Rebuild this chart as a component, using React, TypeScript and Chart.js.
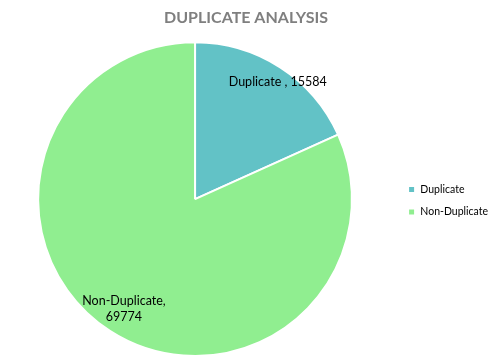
import React, { useEffect, useRef } from "react";
import { Chart, registerables } from "chart.js";

Chart.register(...registerables);

const categories = ["Duplicate", "Non-Duplicate"];
const values = [15584, 69774];
const colors = ["#62C2C6", "#90EE90"];
const labelLines = [["Duplicate , 15584"], ["Non-Duplicate,", "69774"]];
const labelRadius = [0.915, 0.835];
const labelAngleFrac = [0.535, 0.5];
const FONT = "Lato, 'Open Sans', sans-serif";
const LEGEND_SHIFT = 6;

const labelPlugin = {
  id: "sliceLabels",
  afterLayout(chart: any) {
    const lg = chart.legend;
    if (lg) {
      lg.left += LEGEND_SHIFT;
      lg.right += LEGEND_SHIFT;
    }
  },
  afterDatasetsDraw(chart: any) {
    const ctx = chart.ctx;
    const meta = chart.getDatasetMeta(0);
    ctx.save();
    ctx.font = `12.5px ${FONT}`;
    ctx.fillStyle = "#000";
    ctx.textAlign = "center";
    ctx.textBaseline = "middle";
    meta.data.forEach((arc: any, i: number) => {
      const { x, y, startAngle, endAngle, outerRadius } = arc.getProps(
        ["x", "y", "startAngle", "endAngle", "outerRadius"],
        true
      );
      const mid = startAngle + (endAngle - startAngle) * labelAngleFrac[i];
      const r = outerRadius * labelRadius[i];
      const cx = x + Math.cos(mid) * r;
      const cy = y + Math.sin(mid) * r;
      const lines = labelLines[i];
      const lh = 16;
      lines.forEach((t, k) => {
        ctx.fillText(t, cx, cy + (k - (lines.length - 1) / 2) * lh);
      });
    });
    ctx.restore();
  },
};

export default function App() {
  const ref = useRef<HTMLCanvasElement>(null);
  useEffect(() => {
    document.body.style.margin = "0";
    const chart = new Chart(ref.current!, {
      type: "pie",
      data: {
        labels: categories,
        datasets: [
          {
            data: values,
            backgroundColor: colors,
            borderColor: "#ffffff",
            borderWidth: 2,
          },
        ],
      },
      options: {
        responsive: false,
        animation: false,
        layout: { padding: { left: 0, right: -3, top: 0, bottom: 7 } },
        plugins: {
          title: {
            display: true,
            text: "DUPLICATE ANALYSIS",
            color: "#7F7F7F",
            font: { family: FONT, size: 16, weight: "bold" },
            padding: { top: 8, bottom: 14 },
          },
          legend: {
            position: "right",
            title: {
              display: true,
              text: "",
              font: { size: 12 },
              padding: { top: 30, bottom: 0 },
            },
            labels: {
              boxWidth: 7,
              boxHeight: 7,
              padding: 12,
              color: "#000",
              font: { family: FONT, size: 10.5 },
            },
          },
          tooltip: { enabled: false },
        },
      },
      plugins: [labelPlugin],
    });
    return () => chart.destroy();
  }, []);
  return <canvas ref={ref} width={489} height={364} style={{ display: "block" }} />;
}
